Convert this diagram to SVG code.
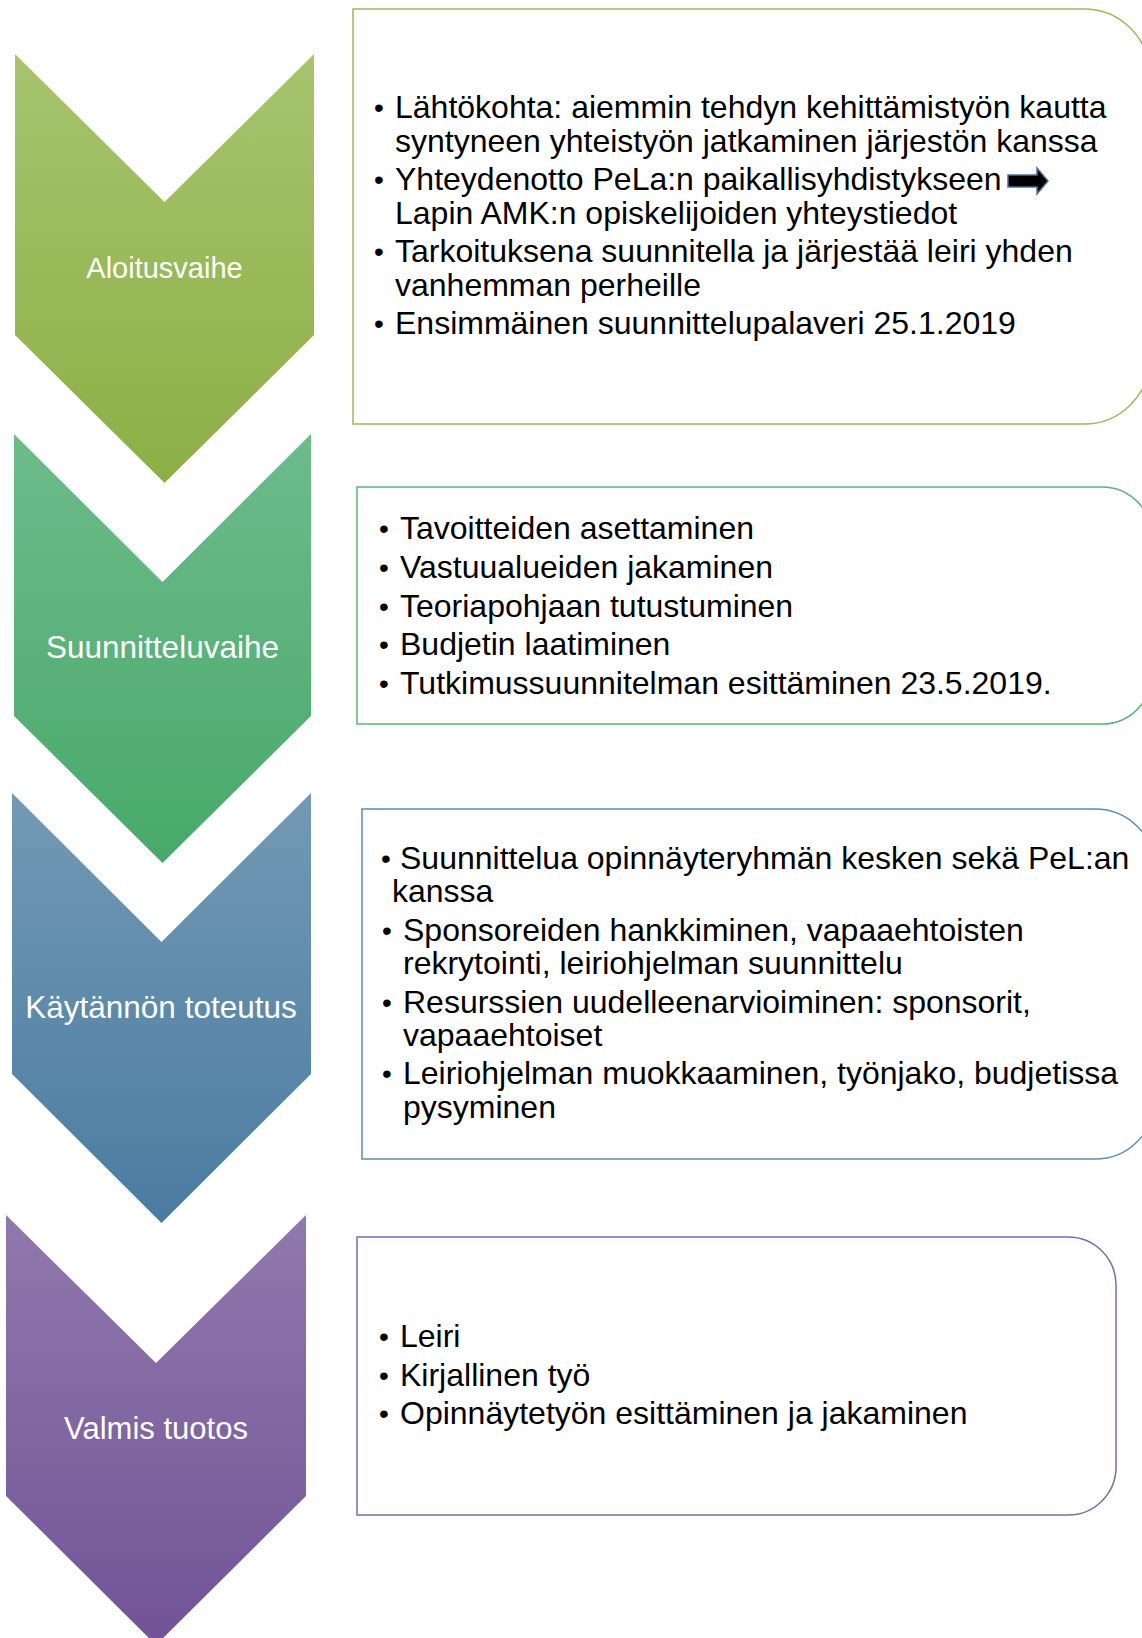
<svg xmlns="http://www.w3.org/2000/svg" width="1142" height="1638" viewBox="0 0 1142 1638">
<defs>
<linearGradient id="g1" x1="0" y1="0" x2="0" y2="1"><stop offset="0" stop-color="#A7C46E"/><stop offset="1" stop-color="#8CAF45"/></linearGradient>
<linearGradient id="g2" x1="0" y1="0" x2="0" y2="1"><stop offset="0" stop-color="#6EBB8C"/><stop offset="1" stop-color="#48A96A"/></linearGradient>
<linearGradient id="g3" x1="0" y1="0" x2="0" y2="1"><stop offset="0" stop-color="#7399B5"/><stop offset="1" stop-color="#4A7CA0"/></linearGradient>
<linearGradient id="g4" x1="0" y1="0" x2="0" y2="1"><stop offset="0" stop-color="#9079AD"/><stop offset="1" stop-color="#715396"/></linearGradient>
</defs>
<style>
.lab{font-family:"Liberation Sans",Arial,sans-serif;fill:#fff;text-anchor:middle}
.t{font-family:"Liberation Sans",Arial,sans-serif;font-size:32px;fill:#000}
.b{font-family:"Liberation Sans",Arial,sans-serif;font-size:28px;fill:#000}
.box{fill:#fff;stroke-width:1.5}
</style>
<rect width="1142" height="1638" fill="#fff"/>

<g id="phase1">
<path d="M15,54 L164.5,202 L314,54 L314,335 L164.5,483 L15,335 Z" fill="url(#g1)"/>
<text class="lab" x="164.5" y="278" font-size="29">Aloitusvaihe</text>
</g>
<g id="phase2">
<path d="M14,434 L162.5,582 L311,434 L311,716 L162.5,863 L14,716 Z" fill="url(#g2)"/>
<text class="lab" x="162.5" y="658" font-size="31.5">Suunnitteluvaihe</text>
</g>
<g id="phase3">
<path d="M12,793 L161.5,942 L311,793 L311,1074 L161.5,1223 L12,1074 Z" fill="url(#g3)"/>
<text class="lab" x="161" y="1018" font-size="31.5">Käytännön toteutus</text>
</g>
<g id="phase4">
<path d="M6,1215 L156,1363 L306,1215 L306,1496 L156,1645 L6,1496 Z" fill="url(#g4)"/>
<text class="lab" x="156" y="1439" font-size="31">Valmis tuotos</text>
</g>

<g id="box1">
<path class="box" d="M353,9 L1084,9 A66,66 0 0 1 1150,75 L1150,358 A66,66 0 0 1 1084,424 L353,424 Z" stroke="#9BBB59"/>
<text class="b" x="374" y="117">•</text><text class="t" x="395" y="118">Lähtökohta: aiemmin tehdyn kehittämistyön kautta</text>
<text class="t" x="395" y="152">syntyneen yhteistyön jatkaminen järjestön kanssa</text>
<text class="b" x="374" y="189">•</text><text class="t" x="395" y="190">Yhteydenotto PeLa:n paikallisyhdistykseen</text>
<path d="M1008,175 L1037,175 L1037,168 L1048,181 L1037,194 L1037,187 L1008,187 Z" fill="#000" stroke="#4A6FA0" stroke-width="1.5"/>
<text class="t" x="395" y="224">Lapin AMK:n opiskelijoiden yhteystiedot</text>
<text class="b" x="374" y="261">•</text><text class="t" x="395" y="262">Tarkoituksena suunnitella ja järjestää leiri yhden</text>
<text class="t" x="395" y="296">vanhemman perheille</text>
<text class="b" x="374" y="333">•</text><text class="t" x="395" y="334">Ensimmäinen suunnittelupalaveri 25.1.2019</text>
</g>

<g id="box2">
<path class="box" d="M357,487 L1102,487 A50,50 0 0 1 1152,537 L1152,674 A50,50 0 0 1 1102,724 L357,724 Z" stroke="#5DB47B"/>
<text class="b" x="379" y="538">•</text><text class="t" x="400" y="539">Tavoitteiden asettaminen</text>
<text class="b" x="379" y="577">•</text><text class="t" x="400" y="578">Vastuualueiden jakaminen</text>
<text class="b" x="379" y="616">•</text><text class="t" x="400" y="617">Teoriapohjaan tutustuminen</text>
<text class="b" x="379" y="654">•</text><text class="t" x="400" y="655">Budjetin laatiminen</text>
<text class="b" x="379" y="693">•</text><text class="t" x="400" y="694">Tutkimussuunnitelman esittäminen 23.5.2019.</text>
</g>

<g id="box3">
<path class="box" d="M362,809 L1095,809 A60,60 0 0 1 1155,869 L1155,1099 A60,60 0 0 1 1095,1159 L362,1159 Z" stroke="#5D8DB3"/>
<text class="b" x="381" y="868">•</text><text class="t" x="400" y="869">Suunnittelua opinnäyteryhmän kesken sekä PeL:an</text>
<text class="t" x="392" y="902">kanssa</text>
<text class="b" x="382" y="940">•</text><text class="t" x="403" y="941">Sponsoreiden hankkiminen, vapaaehtoisten</text>
<text class="t" x="403" y="974">rekrytointi, leiriohjelman suunnittelu</text>
<text class="b" x="382" y="1012">•</text><text class="t" x="403" y="1013">Resurssien uudelleenarvioiminen: sponsorit,</text>
<text class="t" x="403" y="1046">vapaaehtoiset</text>
<text class="b" x="382" y="1083">•</text><text class="t" x="403" y="1084">Leiriohjelman muokkaaminen, työnjako, budjetissa</text>
<text class="t" x="403" y="1118">pysyminen</text>
</g>

<g id="box4">
<path class="box" d="M357,1237 L1068,1237 A48,48 0 0 1 1116,1285 L1116,1467 A48,48 0 0 1 1068,1515 L357,1515 Z" stroke="#8467A6"/>
<text class="b" x="379" y="1346">•</text><text class="t" x="400" y="1347">Leiri</text>
<text class="b" x="379" y="1385">•</text><text class="t" x="400" y="1386">Kirjallinen työ</text>
<text class="b" x="379" y="1423">•</text><text class="t" x="400" y="1424">Opinnäytetyön esittäminen ja jakaminen</text>
</g>

<g id="connectors"></g>
</svg>
